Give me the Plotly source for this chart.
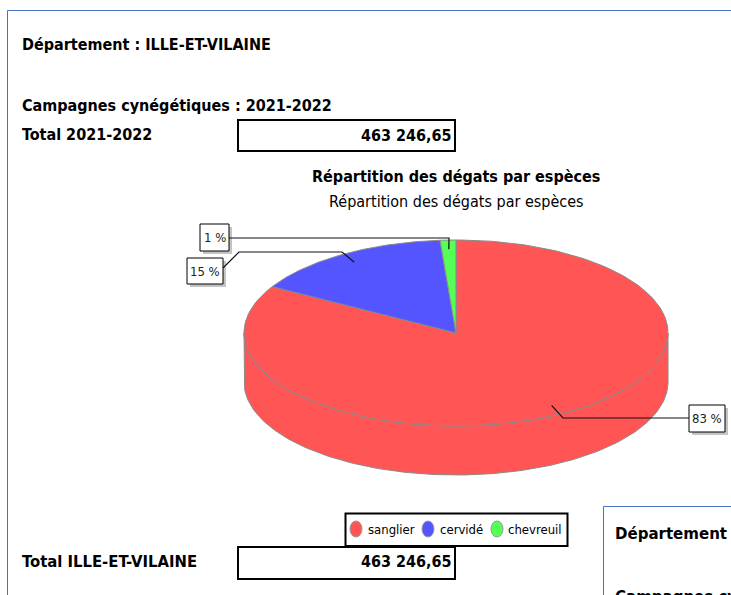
import numpy as np
import plotly.graph_objects as go

especes = ["sanglier", "cervidé", "chevreuil"]
parts = [83.3, 15.5, 1.2]
etiquettes = ["83 %", "15 %", "1 %"]
couleurs = ["#FF5555", "#5555FF", "#55FF55"]
total_campagne = "463 246,65"
total_departement = "463 246,65"
departement = "Département : ILLE-ET-VILAINE"
campagne = "Campagnes cynégétiques : 2021-2022"

# pie geometry in page pixels
CX, CY, RX, RY, DEPTH = 456, 333, 212, 93, 49
FONT = "DejaVu Sans Condensed, DejaVu Sans"
EDGE = "#8a8a8a"

fig = go.Figure()


def pt(a, k=1.0, dz=0.0):
    """a = degrees clockwise from 12 o'clock."""
    r = np.radians(a)
    return CX + k * RX * np.sin(r), CY - k * RY * np.cos(r) + dz


# slice angle spans: sanglier starts at 12 o'clock, clockwise
spans = []
start = 0.0
tot = sum(parts)
for v in parts:
    spans.append((start, start + 360 * v / tot))
    start += 360 * v / tot

# side wall (only the front half of the pie is visible)
for (a0, a1), c, name in zip(spans, couleurs, especes):
    lo, hi = max(a0, 90), min(a1, 270)
    if hi <= lo:
        continue
    t = np.linspace(lo, hi, 160)
    xt, yt = pt(t)
    xb, yb = pt(t[::-1], dz=DEPTH)
    fig.add_trace(go.Scatter(
        x=np.r_[xt, xb, xt[0]], y=np.r_[yt, yb, yt[0]], mode="lines", fill="toself",
        fillcolor=c, line=dict(color=EDGE, width=1), hoverinfo="skip", showlegend=False))

# top faces
for (a0, a1), c, name, v in zip(spans, couleurs, especes, parts):
    t = np.linspace(a0, a1, 200)
    xt, yt = pt(t)
    fig.add_trace(go.Scatter(
        x=np.r_[CX, xt, CX], y=np.r_[CY, yt, CY], mode="lines", fill="toself",
        fillcolor=c, line=dict(color=EDGE, width=1), name=name, showlegend=False,
        hovertemplate=f"{name}: {v} %<extra></extra>"))

# leader lines: start at each slice's mid-angle, then run to the label box
coudes = [[(563, 418), (689, 418)], [(342, 252), (239, 252), (223, 268)], [(449, 238), (229, 238)]]
for (a0, a1), route in zip(spans, coudes):
    x0, y0 = pt((a0 + a1) / 2, k=0.9)
    xs = [x0] + [p[0] for p in route]
    ys = [y0] + [p[1] for p in route]
    fig.add_trace(go.Scatter(x=xs, y=ys, mode="lines", line=dict(color="#111", width=1.2),
                             hoverinfo="skip", showlegend=False))

shapes = []
ann = []


def rect(x0, y0, x1, y1, lw=1, line="black", fill="white", layer="below"):
    shapes.append(dict(type="rect", xref="x", yref="y", x0=x0, y0=y0, x1=x1, y1=y1,
                       line=dict(color=line, width=lw), fillcolor=fill, layer=layer))


def text(x, y, s, size=16, bold=True, anchor="left", yanchor="middle", color="black"):
    ann.append(dict(x=x, y=y, xref="x", yref="y", text=f"<b>{s}</b>" if bold else s,
                    showarrow=False, xanchor=anchor, yanchor=yanchor,
                    font=dict(family=FONT, size=size, color=color),
                    borderpad=0, borderwidth=0))


# outer frames
for x0, y0 in [(7.5, 10.5), (603.5, 506.5)]:
    shapes.append(dict(type="line", xref="x", yref="y", x0=x0, y0=y0, x1=735, y1=y0,
                       line=dict(color="#4472C4", width=1), layer="below"))
    shapes.append(dict(type="line", xref="x", yref="y", x0=x0, y0=y0, x1=x0, y1=600,
                       line=dict(color="#4472C4", width=1), layer="below"))

# header texts
text(22, 44, departement)
text(22, 105, campagne)
text(22, 134, "Total 2021-2022")
text(22, 561, "Total ILLE-ET-VILAINE", size=16.5)

# total boxes
rect(238, 120, 455, 151, lw=2)
text(452, 135, total_campagne, anchor="right")
rect(238, 547, 455, 579, lw=2)
text(452, 561, total_departement, anchor="right")

# chart titles
text(456, 176, "Répartition des dégats par espèces", anchor="center")
text(456, 201, "Répartition des dégats par espèces", bold=False, anchor="center")

# pie labels with drop shadow
boites = [(689, 405, 725, 432), (187, 258, 223, 284), (200, 224, 229, 251)]
for (x0, y0, x1, y1), lab in zip(boites, etiquettes):
    rect(x0 + 3, y0 + 3, x1 + 3, y1 + 3, lw=0, line="#c4c4c4", fill="#c4c4c4")
    rect(x0, y0, x1, y1, lw=1)
    text((x0 + x1) / 2, (y0 + y1) / 2, lab, size=13, bold=False, anchor="center", color="#222")

# legend
rect(345.5, 513.5, 567.5, 546, lw=2)
cles = [356, 428, 497]
textes = [368, 440, 508]
for cx, tx, c, name in zip(cles, textes, couleurs, especes):
    shapes.append(dict(type="circle", xref="x", yref="y", x0=cx - 6, x1=cx + 6, y0=521, y1=537,
                       fillcolor=c, line=dict(color="#999", width=1), layer="below"))
    text(tx, 529, name, size=13, bold=False)

# second, cropped panel
text(615, 533, departement, size=16.7)
text(615, 586, campagne, size=16.7, yanchor="top")

fig.update_layout(
    width=731, height=595, margin=dict(l=0, r=0, t=0, b=0),
    paper_bgcolor="white", plot_bgcolor="rgba(0,0,0,0)", showlegend=False,
    xaxis=dict(range=[0, 731], visible=False, fixedrange=True),
    yaxis=dict(range=[595, 0], visible=False, fixedrange=True),
    shapes=shapes, annotations=ann,
)
fig.write_html("out.html", config=dict(displayModeBar=False),
               post_script="document.body.style.margin='0';document.body.style.overflow='hidden';")
